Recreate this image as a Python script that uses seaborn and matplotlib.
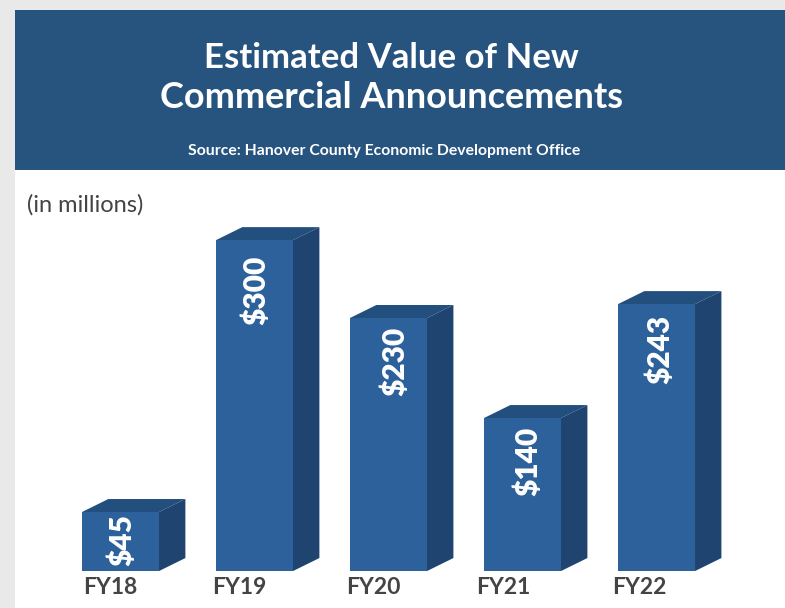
import matplotlib
matplotlib.use("Agg")
import matplotlib.pyplot as plt
from matplotlib.patches import Rectangle, Polygon
import seaborn as sns
import pandas as pd

years = ["FY18", "FY19", "FY20", "FY21", "FY22"]
drawn_heights = [53.5, 300, 229.4, 138.7, 242]   # bar heights as drawn in the picture
value_labels = ["$45", "$300", "$230", "$140", "$243"]

DX, DY = 0.197, 11.8
WIDTH = 0.575
FRONT, TOP, SIDE, HEADER = "#2d619b", "#234f7e", "#1f4470", "#27547f"
BG = "#e9e9e9"
W, H = 785, 608
FONT = "Lato"
label_shift = [-10.5, -15.5, -15.5, -19.5, -17]   # px, tick label vs bar centre
label_pad = [2, 15, 9, 9, 11]                      # px, value label below bar top
label_dx = [2, 2, 7, 6, 4]                         # px, value label vs bar centre

sns.set_theme(style="white")
plt.rcParams["font.family"] = [FONT, "DejaVu Sans"]

fig = plt.figure(figsize=(W / 100, H / 100), dpi=100, facecolor=BG)
ax = fig.add_axes([15 / W, 0, 1 - 15 / W, (H - 170) / H])
ax.set_facecolor("white")

df = pd.DataFrame({"year": years, "value": drawn_heights})
sns.barplot(data=df, x="year", y="value", color=FRONT, saturation=1,
            width=WIDTH, ax=ax, zorder=3, linewidth=0)

for i, v in enumerate(drawn_heights):
    l, r = i - WIDTH / 2, i + WIDTH / 2
    ax.add_patch(Polygon([(l, v), (l + DX, v + DY), (r + DX, v + DY), (r, v)],
                         facecolor=TOP, lw=0, zorder=2))
    ax.add_patch(Polygon([(r, 0), (r + DX, DY), (r + DX, v + DY), (r, v)],
                         facecolor=SIDE, lw=0, zorder=2))
    ax.annotate(value_labels[i], (i, v),
                xytext=(label_dx[i] * 0.72, -label_pad[i] * 0.72),
                textcoords="offset points", rotation=90, ha="center", va="top",
                color="white", fontsize=21.5, fontweight="heavy", zorder=4)

ax.set_xlim(-0.787, 4.959)
ax.set_ylim(-33.5, 363.6)
ax.set_xticks([i + s / 134 for i, s in enumerate(label_shift)])
ax.set_xticklabels(years, fontsize=16.5, fontweight="bold", color="#444444")
ax.tick_params(axis="x", length=0, direction="in", pad=-22.5)
ax.set_xlabel("")
ax.set_ylabel("")
ax.set_yticks([])
sns.despine(ax=ax, left=True, bottom=True)

fig.add_artist(Rectangle((15 / W, (H - 170) / H), 1 - 15 / W, 160 / H,
                         transform=fig.transFigure, facecolor=HEADER, lw=0))
cx = 391 / W
fig.text(cx, 1 - 58 / H, "Estimated Value of New", ha="center", va="center",
         color="white", fontsize=25, fontweight="bold")
fig.text(cx, 1 - 98 / H, "Commercial Announcements", ha="center", va="center",
         color="white", fontsize=25.9, fontweight="bold")
fig.text(384.5 / W, 1 - 151 / H, "Source: Hanover County Economic Development Office",
         ha="center", va="center", color="white", fontsize=11.3, fontweight="bold")
fig.text(27 / W, 1 - 205 / H, "(in millions)", ha="left", va="center",
         color="#444444", fontsize=17)

fig.savefig("out.png", dpi=100, facecolor=BG)
